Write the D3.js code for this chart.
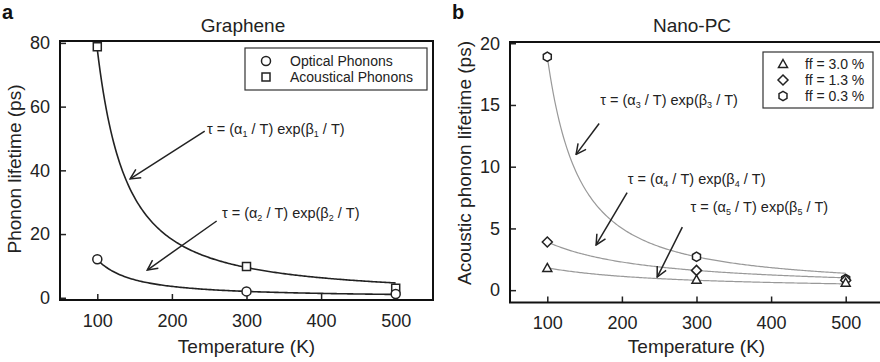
<!DOCTYPE html>
<html>
<head>
<meta charset="utf-8">
<script src="https://cdn.jsdelivr.net/npm/d3@7"></script>
<style>
  body { margin: 0; background: #fff; }
  svg { display: block; font-family: 'Liberation Sans', Arial, sans-serif; }
</style>
</head>
<body>
<script>
const width = 880
const height = 362

// temperatures (K)
const temps = [100, 300, 500]
const xTicks = [100, 200, 300, 400, 500]

// panel a - graphene (ps)
const optical = [12.1, 2.0, 1.2]
const acoustical = [78.8, 9.8, 3.0]
const yTicksA = [0, 20, 40, 60, 80]

// panel b - nano-PC (ps)
const ff30 = [1.8, 0.85, 0.6]
const ff13 = [3.9, 1.6, 0.8]
const ff03 = [18.9, 2.7, 0.9]
const yTicksB = [0, 5, 10, 15, 20]

// fit parameters for tau = (alpha / T) exp(beta / T)
const alphas = [1722, 424, 531, 532, 277]
const betas = [151, 104, 127, -31, -43]

// annotations: [label index, text T, text tau, arrow from T, tau, arrow to T, tau]
const notesA = [
  [1, 247, 51.4, 244, 52.3, 144, 37.3],
  [2, 267, 25.0, 260, 24.1, 167, 8.7]
]
const notesB = [
  [3, 171, 15.0, 169.5, 13.5, 138.6, 11.0],
  [4, 208, 8.6, 207, 7.9, 165.4, 3.66],
  [5, 292, 6.33, 281, 5.1, 247.3, 1.06]
]

const svg = d3.select('body').append('svg')
  .attr('width', width)
  .attr('height', height)

svg.append('defs').append('marker')
  .attr('id', 'arrow')
  .attr('viewBox', '0 0 12 12')
  .attr('refX', 11)
  .attr('refY', 6)
  .attr('markerWidth', 12)
  .attr('markerHeight', 12)
  .attr('markerUnits', 'userSpaceOnUse')
  .attr('orient', 'auto')
  .append('path')
  .attr('d', 'M1,1 L11,6 L1,11')
  .attr('fill', 'none')
  .attr('stroke', '#222')
  .attr('stroke-width', 1.5)

function fitCurve(k) {
  const pts = d3.range(100, 500.1, 2)
  return pts.map(t => [t, alphas[k] / t * Math.exp(betas[k] / t)])
}

function drawMarker(g, shape, x, y) {
  const s = g.append('path')
    .attr('transform', `translate(${x},${y})`)
    .attr('fill', '#fff')
    .attr('stroke', '#222')
    .attr('stroke-width', 1.5)
  if (shape === 'circle') s.attr('d', d3.symbol(d3.symbolCircle, 64)())
  if (shape === 'square') s.attr('d', 'M-4,-4H4V4H-4Z')
  if (shape === 'triangle') s.attr('d', 'M0,-4.5L4.5,3.5H-4.5Z')
  if (shape === 'diamond') s.attr('d', 'M0,-5L5,0L0,5L-5,0Z')
  if (shape === 'hexagon') {
    const r = 4.6
    const pts = d3.range(6).map(i => {
      const a = Math.PI / 6 + i * Math.PI / 3
      return [r * Math.cos(a), r * Math.sin(a)]
    })
    s.attr('d', 'M' + pts.join('L') + 'Z')
  }
}

function panel(opts) {
  const g = svg.append('g')
  const x = d3.scaleLinear().domain([50, 550]).range([opts.left, opts.right])
  const y = d3.scaleLinear().domain(opts.yDomain).range([opts.bottom, opts.top])

  // axes
  g.append('g')
    .attr('transform', `translate(0,${opts.bottom})`)
    .call(d3.axisBottom(x).tickValues(xTicks).tickSize(-6).tickSizeOuter(0).tickPadding(14))
    .call(a => a.select('.domain').remove())
    .call(a => a.selectAll('line').attr('stroke', '#222').attr('stroke-width', 1.5))
    .call(a => a.selectAll('text').attr('font-size', 18).attr('fill', '#222').attr('font-family', null))

  g.append('g')
    .attr('transform', `translate(${opts.left},0)`)
    .call(d3.axisLeft(y).tickValues(opts.yTicks).tickSize(-6).tickSizeOuter(0).tickPadding(10))
    .call(a => a.select('.domain').remove())
    .call(a => a.selectAll('line').attr('stroke', '#222').attr('stroke-width', 1.5))
    .call(a => a.selectAll('text').attr('font-size', 18).attr('fill', '#222').attr('font-family', null))

  // frame
  g.append('rect')
    .attr('x', opts.left)
    .attr('y', opts.top)
    .attr('width', opts.right - opts.left)
    .attr('height', opts.bottom - opts.top)
    .attr('fill', 'none')
    .attr('stroke', '#111')
    .attr('stroke-width', 2)

  // titles
  g.append('text')
    .text(opts.title)
    .attr('x', opts.titleX)
    .attr('y', 32)
    .attr('text-anchor', 'middle')
    .attr('font-size', 19)
    .attr('fill', '#222')

  g.append('text')
    .text(opts.letter)
    .attr('x', opts.letterX)
    .attr('y', 19)
    .attr('font-size', 20)
    .attr('font-weight', 'bold')
    .attr('fill', '#111')

  g.append('text')
    .text('Temperature (K)')
    .attr('x', (x(100) + x(500)) / 2)
    .attr('y', 353)
    .attr('text-anchor', 'middle')
    .attr('font-size', 19)
    .attr('fill', '#222')

  g.append('text')
    .text(opts.yLabel)
    .attr('transform', `translate(${opts.yLabelX},${opts.yLabelY}) rotate(-90)`)
    .attr('text-anchor', 'middle')
    .attr('font-size', 19)
    .attr('fill', '#222')

  // fit curves
  const line = d3.line().x(d => x(d[0])).y(d => y(d[1]))
  opts.series.forEach(s => {
    g.append('path')
      .attr('d', line(fitCurve(s.fit)))
      .attr('fill', 'none')
      .attr('stroke', opts.curveColor)
      .attr('stroke-width', opts.curveWidth)
  })

  // points
  opts.series.forEach(s => {
    s.values.forEach((v, i) => drawMarker(g, s.shape, x(temps[i]), y(v)))
  })

  // annotations
  opts.notes.forEach(n => {
    g.append('line')
      .attr('x1', x(n[3])).attr('y1', y(n[4]))
      .attr('x2', x(n[5])).attr('y2', y(n[6]))
      .attr('stroke', '#222')
      .attr('stroke-width', 1.5)
      .attr('marker-end', 'url(#arrow)')
    const t = g.append('text')
      .attr('x', x(n[1]))
      .attr('y', y(n[2]))
      .attr('font-size', 14.5)
      .attr('fill', '#222')
    t.append('tspan').text('τ = (α')
    t.append('tspan').text(n[0]).attr('font-size', 9).attr('dy', 3)
    t.append('tspan').text(' / T) exp(β').attr('dy', -3)
    t.append('tspan').text(n[0]).attr('font-size', 9).attr('dy', 3)
    t.append('tspan').text(' / T)').attr('dy', -3)
  })

  // legend
  const lg = g.append('g').attr('transform', `translate(${opts.legend.x},${opts.legend.y})`)
  lg.append('rect')
    .attr('width', opts.legend.w)
    .attr('height', opts.legend.h)
    .attr('fill', '#fff')
    .attr('stroke', '#333')
    .attr('stroke-width', 1.2)
  opts.legend.items.forEach((it, i) => {
    const yy = opts.legend.firstRow + i * opts.legend.rowStep
    drawMarker(lg, it.shape, opts.legend.symX, yy)
    lg.append('text')
      .text(it.label)
      .attr('x', opts.legend.textX)
      .attr('y', yy + 5)
      .attr('font-size', 14)
      .attr('fill', '#222')
  })
}

panel({
  left: 60, right: 433, top: 41, bottom: 300,
  yDomain: [-0.7, 80.6],
  yTicks: yTicksA,
  title: 'Graphene', titleX: 243,
  letter: 'a', letterX: 2,
  yLabel: 'Phonon lifetime (ps)', yLabelX: 21, yLabelY: 169,
  curveColor: '#222', curveWidth: 1.6,
  series: [
    { values: acoustical, shape: 'square', fit: 0 },
    { values: optical, shape: 'circle', fit: 1 }
  ],
  notes: notesA,
  legend: {
    x: 245, y: 48, w: 182, h: 42,
    symX: 21, textX: 45, firstRow: 13, rowStep: 16,
    items: [
      { shape: 'circle', label: 'Optical Phonons' },
      { shape: 'square', label: 'Acoustical Phonons' }
    ]
  }
})

panel({
  left: 510, right: 883, top: 42, bottom: 302.5,
  yDomain: [-1.0, 20.1],
  yTicks: yTicksB,
  title: 'Nano-PC', titleX: 692,
  letter: 'b', letterX: 452,
  yLabel: 'Acoustic phonon lifetime (ps)', yLabelX: 471, yLabelY: 163,
  curveColor: '#999', curveWidth: 1.2,
  series: [
    { values: ff03, shape: 'hexagon', fit: 2 },
    { values: ff13, shape: 'diamond', fit: 3 },
    { values: ff30, shape: 'triangle', fit: 4 }
  ],
  notes: notesB,
  legend: {
    x: 763, y: 52, w: 110, h: 56,
    symX: 20, textX: 42, firstRow: 12, rowStep: 16,
    items: [
      { shape: 'triangle', label: 'ff = 3.0 %' },
      { shape: 'diamond', label: 'ff = 1.3 %' },
      { shape: 'hexagon', label: 'ff = 0.3 %' }
    ]
  }
})
</script>
</body>
</html>
